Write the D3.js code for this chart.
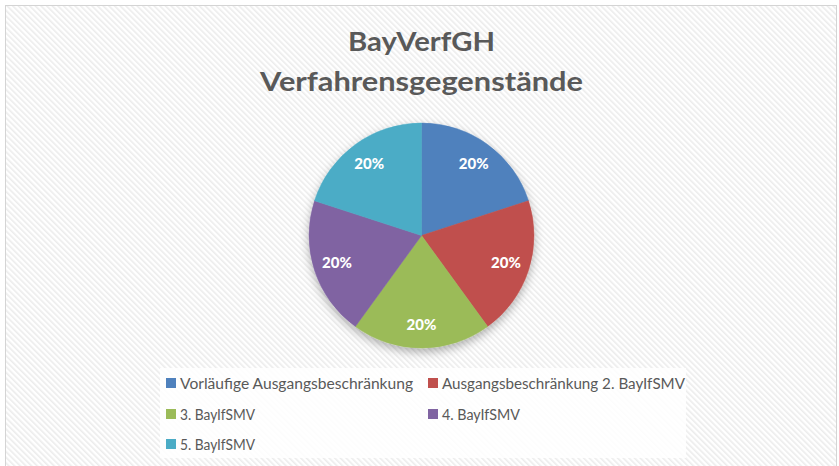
<!DOCTYPE html>
<html><head><meta charset="utf-8">
<script src="https://cdn.jsdelivr.net/npm/d3@7"></script>
<style>html,body{margin:0;padding:0;background:#fff;}svg{display:block;}</style>
</head><body>
<script>
const categories = ["Vorläufige Ausgangsbeschränkung","Ausgangsbeschränkung 2. BayIfSMV","3. BayIfSMV","4. BayIfSMV","5. BayIfSMV"];
const values = [20,20,20,20,20];
const colors = ["#4F81BD","#C0504D","#9BBB59","#8064A2","#4BACC6"];
const titleLines = ["BayVerfGH","Verfahrensgegenstände"];

const W=839,H=466;
const svg=d3.select("body").append("svg").attr("width",W).attr("height",H);
const defs=svg.append("defs");
const pat=defs.append("pattern").attr("id","stripes").attr("patternUnits","userSpaceOnUse")
 .attr("width",4).attr("height",4).attr("patternTransform","rotate(-45)");
pat.append("rect").attr("width",4).attr("height",4).attr("fill","#ffffff");
pat.append("rect").attr("width",1.6).attr("height",4).attr("fill","#ececec");
const f=defs.append("filter").attr("id","shadow").attr("x","-30%").attr("y","-30%").attr("width","160%").attr("height","160%");
f.append("feDropShadow").attr("dx",0).attr("dy",4).attr("stdDeviation",5).attr("flood-color","#000").attr("flood-opacity",0.3);

svg.append("rect").attr("x",5.5).attr("y",5.5).attr("width",831).attr("height",475)
 .attr("fill","url(#stripes)").attr("stroke","#d4d4d4").attr("stroke-width",1);

const tg=svg.append("g");
const tys=[51,91], tws=[147,323];
titleLines.forEach((t,i)=>{
  const el=tg.append("text").attr("x",421.5).attr("y",tys[i]).attr("text-anchor","middle")
   .attr("font-family","Lato, 'Open Sans', sans-serif").attr("font-weight","bold").attr("font-size",27)
   .attr("fill","#595959").text(t);
  el.attr("textLength",tws[i]).attr("lengthAdjust","spacingAndGlyphs");
});

const cx=421.5, cy=235.5, r=112.5;
const pie=d3.pie().sort(null).value(d=>d);
const arcs=pie(values);
const arc=d3.arc().innerRadius(0).outerRadius(r);
const labelArc=d3.arc().innerRadius(r*0.79).outerRadius(r*0.79);
const pg=svg.append("g").attr("transform",`translate(${cx},${cy})`);
const sg=pg.append("g").attr("filter","url(#shadow)");
sg.selectAll("path").data(arcs).enter().append("path").attr("d",arc).attr("fill",(d,i)=>colors[i])
 .attr("stroke",(d,i)=>colors[i]).attr("stroke-width",0.5);
pg.selectAll("text").data(arcs).enter().append("text")
 .attr("transform",d=>`translate(${labelArc.centroid(d)})`)
 .attr("text-anchor","middle").attr("dy","0.35em")
 .attr("font-family","Lato, 'Open Sans', sans-serif").attr("font-weight","900").attr("font-size",15)
 .attr("fill","#ffffff").text(d=>d3.format(".0%")(d.value/d3.sum(values)));

svg.append("rect").attr("x",160).attr("y",368).attr("width",526).attr("height",90).attr("fill","#ffffff").attr("opacity",0.85);
const lx=[166,428], ly=[383,414,444];
const tw=[233,243,75,78,75];
const lg=svg.append("g");
categories.forEach((c,i)=>{
  const col=i%2, row=Math.floor(i/2);
  const g=lg.append("g").attr("transform",`translate(${lx[col]},${ly[row]})`);
  g.append("rect").attr("x",0).attr("y",-5).attr("width",10).attr("height",10).attr("fill",colors[i]);
  g.append("text").attr("x",14).attr("y",5.5).attr("font-family","Lato, 'Open Sans', sans-serif")
   .attr("font-size",15.5).attr("fill","#595959").text(c)
   .attr("textLength",tw[i]).attr("lengthAdjust","spacingAndGlyphs");
});
</script>
</body></html>
